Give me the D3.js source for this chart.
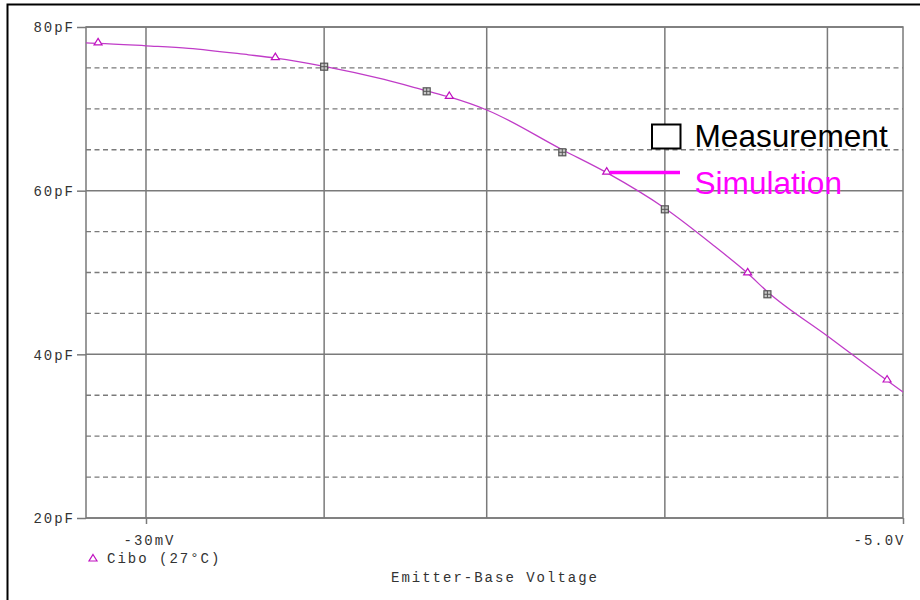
<!DOCTYPE html>
<html><head><meta charset="utf-8">
<script src="https://cdn.jsdelivr.net/npm/d3@7"></script>
<style>
html,body{margin:0;padding:0;background:#fff;}
svg{display:block;}
.mono{font-family:"Liberation Mono","DejaVu Sans Mono",monospace;fill:#333;font-size:14px;letter-spacing:2px;}
.sans{font-family:"Liberation Sans",Arial,sans-serif;}
</style></head>
<body>
<svg id="chart" width="920" height="600"></svg>
<script>
// |Emitter-Base Voltage| in volts (axis shows negative values)
const simVoltage = [0.02, 0.0217, 0.03, 0.04, 0.06, 0.0719, 0.1, 0.15, 0.2, 0.233, 0.3, 0.5, 0.675, 1.0, 1.4, 1.75, 2.0, 3.0, 4.49, 5.0];
const simCap     = [78.05, 78.0, 77.7, 77.4, 76.6, 76.2, 75.2, 73.6, 72.2, 71.45, 69.86, 65.0, 62.2, 57.85, 53.2, 49.9, 47.65, 42.24, 36.8, 35.4];
const markerVoltage = [0.0217, 0.0719, 0.233, 0.675, 1.75, 4.49];
const measVoltage = [0.1, 0.2, 0.5, 1.0, 2.0];
const measCap     = [75.15, 72.14, 64.69, 57.72, 47.34];
const yTickValues = [20, 40, 60, 80];
const yTickLabels = ["20pF", "40pF", "60pF", "80pF"];
const yDashedValues = [25, 30, 35, 45, 50, 55, 65, 70, 75];
const xGridValues = [0.03, 0.1, 0.3, 1, 3];
const xTickValues = [0.03, 5];
const xTickLabels = ["-30mV", "-5.0V"];
const xTitle = "Emitter-Base Voltage";
const traceLabel = "Cibo (27\u00B0C)";
const legendLabels = ["Measurement", "Simulation"];

const svg = d3.select("#chart");
const L = 86, R = 903, T = 27, B = 518;
const x = d3.scaleLog().domain([0.02, 5]).range([L, R]);
const y = d3.scaleLinear().domain([20, 80]).range([B, T]);
const grid = "#7a7a7a";

// outer frame
svg.append("rect").attr("x", 7.5).attr("y", 4.5).attr("width", 1000).attr("height", 1000)
  .attr("fill", "none").attr("stroke", "#000").attr("stroke-width", 2);

// dashed horizontal grid
svg.append("g").selectAll("line").data(yDashedValues).join("line")
  .attr("x1", L).attr("x2", R).attr("y1", d => y(d)).attr("y2", d => y(d))
  .attr("stroke", grid).attr("stroke-width", 1.3).attr("stroke-dasharray", "5,3.5");
// solid horizontal grid
svg.append("g").selectAll("line").data(yTickValues).join("line")
  .attr("x1", L).attr("x2", R).attr("y1", d => y(d)).attr("y2", d => y(d))
  .attr("stroke", grid).attr("stroke-width", 1.5);
// vertical grid
svg.append("g").selectAll("line").data(xGridValues).join("line")
  .attr("x1", d => x(d)).attr("x2", d => x(d)).attr("y1", T).attr("y2", B)
  .attr("stroke", grid).attr("stroke-width", 1.5);
// plot frame
svg.append("rect").attr("x", L).attr("y", T).attr("width", R - L).attr("height", B - T)
  .attr("fill", "none").attr("stroke", grid).attr("stroke-width", 1.5);

// y axis
const yAxis = d3.axisLeft(y).tickValues(yTickValues).tickSize(9).tickPadding(2)
  .tickFormat((d, i) => yTickLabels[i]);
const gy = svg.append("g").attr("transform", `translate(${L},0)`).call(yAxis);
gy.select(".domain").remove();
gy.selectAll("line").attr("stroke", grid).attr("stroke-width", 1.5);
gy.selectAll("text").attr("class", "mono").attr("dy", "0.35em");

// x axis
const xAxis = d3.axisBottom(x).tickValues(xTickValues).tickSize(6).tickPadding(8)
  .tickFormat((d, i) => xTickLabels[i]);
const gx = svg.append("g").attr("transform", `translate(0,${B})`).call(xAxis);
gx.select(".domain").remove();
gx.selectAll("line").attr("stroke", grid).attr("stroke-width", 1.5);
gx.selectAll("text").attr("class", "mono").attr("dy", "0.9em")
  .attr("text-anchor", (d, i) => i === xTickValues.length - 1 ? "end" : "middle")
  .attr("dx", (d, i) => i === xTickValues.length - 1 ? "2" : "3");

svg.append("text").attr("class", "mono").attr("x", 495).attr("y", 582)
  .attr("text-anchor", "middle").text(xTitle);

// simulation curve
const simData = simVoltage.map((v, i) => [v, simCap[i]]);
const line = d3.line().x(d => x(d[0])).y(d => y(d[1])).curve(d3.curveMonotoneX);
svg.append("path").datum(simData).attr("d", line).attr("fill", "none")
  .attr("stroke", "#c03cc8").attr("stroke-width", 1.3);

// triangle markers on curve (value interpolated along the curve)
const capAt = v => {
  for (let i = 0; i < simVoltage.length - 1; i++) {
    if (v >= simVoltage[i] && v <= simVoltage[i + 1]) {
      const t = (Math.log(v) - Math.log(simVoltage[i])) / (Math.log(simVoltage[i + 1]) - Math.log(simVoltage[i]));
      return simCap[i] + t * (simCap[i + 1] - simCap[i]);
    }
  }
  return simCap[simCap.length - 1];
};
const tri = (cx, cy) => `M${cx},${cy - 4.5}L${cx + 4},${cy + 2}L${cx - 4},${cy + 2}Z`;
svg.append("g").selectAll("path").data(markerVoltage).join("path")
  .attr("d", d => tri(x(d), y(capAt(d)) - 0.5))
  .attr("fill", "#fff").attr("stroke", "#c010c0").attr("stroke-width", 1.2);

// measurement markers
const meas = svg.append("g").selectAll("g").data(measVoltage.map((v, i) => [v, measCap[i]])).join("g")
  .attr("transform", d => `translate(${x(d[0])},${y(d[1])})`);
meas.append("rect").attr("x", -3.5).attr("y", -3.5).attr("width", 7).attr("height", 7)
  .attr("fill", "#c8c8c8").attr("stroke", "#555").attr("stroke-width", 1.2);
meas.append("path").attr("d", "M-3.5,0H3.5M0,-3.5V3.5").attr("stroke", "#555").attr("stroke-width", 1);

// bottom trace legend
svg.append("path").attr("d", tri(93, 559)).attr("fill", "#fff").attr("stroke", "#c010c0").attr("stroke-width", 1.2);
svg.append("text").attr("class", "mono").attr("x", 107).attr("y", 563).text(traceLabel);

// overlay legend
svg.append("rect").attr("x", 652).attr("y", 124.5).attr("width", 28.5).attr("height", 24)
  .attr("fill", "#fff").attr("stroke", "#000").attr("stroke-width", 2);
svg.append("text").attr("class", "sans").attr("x", 694.5).attr("y", 146.5)
  .attr("font-size", 31.6).attr("fill", "#000").text(legendLabels[0]);
svg.append("line").attr("x1", 610).attr("x2", 680).attr("y1", 172.5).attr("y2", 172.5)
  .attr("stroke", "#ff00ff").attr("stroke-width", 3.5);
svg.append("text").attr("class", "sans").attr("x", 694.5).attr("y", 193.5)
  .attr("font-size", 31.6).attr("fill", "#ff00ff").text(legendLabels[1]);
</script>
</body></html>
